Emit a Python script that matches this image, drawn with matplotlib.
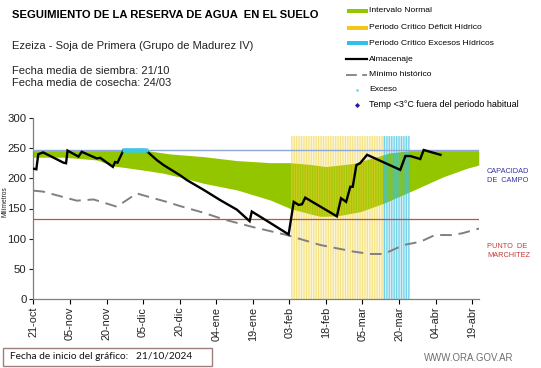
import matplotlib
matplotlib.use("Agg")
import matplotlib.pyplot as plt
from matplotlib.patches import Rectangle
from matplotlib.lines import Line2D
import numpy as np

plt.rcParams['font.family'] = ['Liberation Sans', 'DejaVu Sans']

# ---------------- data (x = days since 21/10/2024) ----------------
tick_days = [0, 15, 30, 45, 60, 75, 90, 105, 120, 135, 150, 165, 180]
tick_labels = ["21-oct", "05-nov", "20-nov", "05-dic", "20-dic", "04-ene", "19-ene",
               "03-feb", "18-feb", "05-mar", "20-mar", "04-abr", "19-abr"]

band_up_day = [0, 31, 46.5, 56, 69.8, 83.5, 97.2, 105, 113.6, 120, 131.4, 141, 146, 154.6, 182.7]
band_up_val = [246, 246, 246, 240.5, 236, 229.4, 226, 226, 223, 219.5, 224.7, 236, 242, 246, 246]
band_lo_day = [0, 12.3, 26, 32.8, 39.7, 46.5, 53.4, 60.2, 69.8, 83.5, 97.2, 105.4, 113.6,
               117.7, 124.5, 134.1, 143.7, 154.6, 168.3, 177.9, 182.7]
band_lo_val = [235, 235, 230.5, 220.5, 216.7, 212.8, 208.4, 202, 191.8, 180.8, 164, 150, 141,
               137, 137.6, 144.8, 158.7, 178, 202.8, 216.7, 222]

alm_day = [0, 1.2, 2, 4, 12.3, 13.4, 14, 18.5, 19.8, 26, 27.4, 32.6, 33.5, 34.5, 37, 46,
           50.7, 53.4, 60.2, 63, 69.8, 76.6, 83.5, 88.7, 89.6, 97.2, 104.7, 106.8, 108.8,
           110.2, 111.5, 124.5, 126.2, 128.3, 130, 131, 132.5, 134, 136.9, 150.5, 152.6,
           154.6, 158.7, 160.1, 167]
alm_val = [216, 215, 240, 243, 226, 225, 246, 236, 244, 233, 234, 219, 227, 226, 247, 247,
           230, 222, 205, 197, 181, 164, 148, 129, 145, 126, 107, 161, 156, 157, 168, 137,
           167, 161, 186, 186, 222, 225, 239, 214, 237, 237, 232, 247, 239]

min_day = [0, 4, 17.8, 24.7, 34.2, 42.4, 47.9, 54.7, 60.2, 69.8, 78, 90.3, 104, 117.7,
           131.4, 138.2, 143.7, 151.9, 158.8, 164.7, 171.8, 176, 183]
min_val = [179.6, 178, 163, 165, 153, 175, 168.6, 161, 154, 143, 132, 119, 106, 89.5,
           78.5, 74.6, 74.6, 89.5, 95, 106, 106, 109, 117]

exceso_day = [37, 38, 39, 40, 41, 42, 43, 44, 45, 46]
exceso_val = [247] * 10

deficit_days = list(range(106, 144))
deficit_val = [270] * len(deficit_days)
excesos_days = list(range(144, 155))
excesos_val = [270] * len(excesos_days)

capacidad_campo = 247
punto_marchitez = 132

# ---------------- figure ----------------
fig = plt.figure(figsize=(5.41, 3.68), dpi=100)
ax = fig.add_axes([33.4 / 541, 1 - 299 / 368, (479 - 33.4) / 541, (299 - 118) / 368])

green = '#94C600'
yellow = '#F0D030'
cyan = '#3CC0E0'

xs = np.linspace(0, 182.7, 400)
up = np.interp(xs, band_up_day, band_up_val)
lo = np.interp(xs, band_lo_day, band_lo_val)
ax.fill_between(xs, lo, up, color=green, lw=0, zorder=1)

# light tint of the critical periods + thin daily stripes
ax.bar(deficit_days, deficit_val, width=1.0, color=yellow, alpha=0.18, lw=0, zorder=2)
ax.bar(deficit_days, deficit_val, width=0.5, color=yellow, alpha=0.5, lw=0, zorder=2, snap=False)
ax.bar(excesos_days, excesos_val, width=1.0, color=cyan, alpha=0.2, lw=0, zorder=2)
ax.bar(excesos_days, excesos_val, width=0.5, color=cyan, alpha=0.65, lw=0, zorder=2, snap=False)

ax.axhline(capacidad_campo, xmin=0, xmax=182.7 / 182.8, color='#8FA8D8', lw=1.0, zorder=3)
ax.axhline(punto_marchitez, xmin=0, xmax=182.7 / 182.8, color='#C0504D', lw=0.9, zorder=3)

ax.plot(min_day, min_val, color='#808080', lw=1.4, dashes=(6, 3.5), zorder=4)
ax.plot(alm_day, alm_val, color='black', lw=1.7, zorder=5, solid_joinstyle='miter')
ax.plot(exceso_day, exceso_val, ls='none', marker='s', ms=2.2, color='#33CCEE', mec='none', zorder=6)

ax.set_xlim(0, 182.8)
ax.set_ylim(0, 300)
ax.set_yticks([0, 50, 100, 150, 200, 250, 300])
ax.set_xticks(tick_days)
ax.set_xticklabels(tick_labels, rotation=90, fontsize=7.8, color='#222222')
ax.tick_params(axis='y', labelsize=8.2, colors='#222222', length=3, width=0.8, pad=2)
ax.tick_params(axis='x', length=3.5, width=0.8, pad=2)
for s in ['top', 'right']:
    ax.spines[s].set_visible(False)
for s in ['left', 'bottom']:
    ax.spines[s].set_color('#7F7F7F')
    ax.spines[s].set_linewidth(0.9)
ax.patch.set_alpha(0)

# ---------------- overlay for texts / legend ----------------
ov = fig.add_axes([0, 0, 1, 1], zorder=-1)
ov.set_xlim(0, 541)
ov.set_ylim(368, 0)
ov.axis('off')

ov.text(12, 15.5, "SEGUIMIENTO DE LA RESERVA DE AGUA  EN EL SUELO", fontsize=8.1,
        fontweight='bold', va='center', ha='left')
ov.text(12, 46, "Ezeiza - Soja de Primera (Grupo de Madurez IV)", fontsize=8, va='center', color='#222222')
ov.text(12, 70.5, "Fecha media de siembra: 21/10", fontsize=8, va='center', color='#222222')
ov.text(12, 83, "Fecha media de cosecha: 24/03", fontsize=8, va='center', color='#222222')

ov.text(5, 202, "Milímetros", fontsize=4.8, rotation=90, va='center', ha='center', color='#222222')

leg_fs = 6.1
ov.add_patch(Rectangle((346.5, 8.8), 21, 4, color=green, lw=0))
ov.text(369.3, 10.7, "Intervalo Normal", fontsize=leg_fs, va='center')
ov.add_patch(Rectangle((346.5, 25.8), 21, 4, color='#F5C518', lw=0))
ov.text(369.3, 27.7, "Periodo Crítico Déficit Hídrico", fontsize=leg_fs, va='center')
ov.add_patch(Rectangle((346.5, 41.4), 21, 4, color='#2CC0EA', lw=0))
ov.text(369.3, 43.3, "Periodo Crítico Excesos Hídricos", fontsize=leg_fs, va='center')
ov.add_line(Line2D([345.7, 367.3], [59.3, 59.3], color='black', lw=1.6))
ov.text(369.3, 59.3, "Almacenaje", fontsize=leg_fs, va='center')
ov.add_line(Line2D([345.7, 367.3], [74.5, 74.5], color='#808080', lw=1.3, dashes=(6, 3)))
ov.text(369.3, 74.5, "Mínimo histórico", fontsize=leg_fs, va='center')
ov.plot([356.7], [89.5], marker='s', ms=2, color='#33CCEE', mec='none')
ov.text(369.3, 89.5, "Exceso", fontsize=leg_fs, va='center')
ov.plot([356.7], [104.5], marker='D', ms=2.6, color='#1F1FA0', mec='none')
ov.text(369.3, 104.5, "Temp <3°C fuera del periodo habitual", fontsize=6.5, va='center')

ov.text(487, 171.5, "CAPACIDAD", fontsize=5.3, color='#3535A8', va='center')
ov.text(487, 180.5, "DE  CAMPO", fontsize=5.3, color='#3535A8', va='center')
ov.text(487, 246.5, "PUNTO  DE", fontsize=5.3, color='#C83A3A', va='center')
ov.text(487, 255.5, "MARCHITEZ", fontsize=5.3, color='#C83A3A', va='center')

ov.add_patch(Rectangle((3.3, 348.3), 208.4, 17.7, fill=False, ec='#9E7E7E', lw=1.0))
ov.text(10, 356.8, "Fecha de inicio del gráfico:   21/10/2024", fontsize=7.3,
        family=['Lato', 'DejaVu Sans'], va='center', color='#111111')
ov.text(424, 358, "WWW.ORA.GOV.AR", fontsize=6.9, color='#6E6E6E', va='center')

fig.savefig("out.png", dpi=100)
